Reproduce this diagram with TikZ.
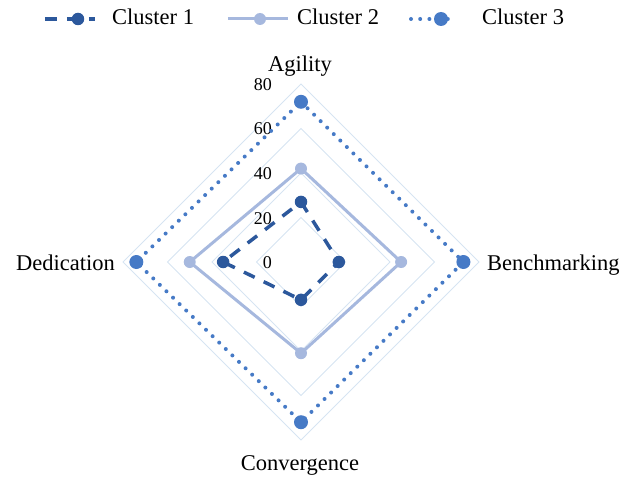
\documentclass[tikz,border=0pt]{standalone}
\usepackage{fontspec}
\setmainfont{Liberation Serif}
\usepackage{tikz}
\usetikzlibrary{calc}
\definecolor{clusterone}{RGB}{44,88,156}
\definecolor{clustertwo}{RGB}{166,184,222}
\definecolor{clusterthree}{RGB}{70,122,198}
\definecolor{gridblue}{RGB}{214,228,242}
\newcommand{\rs}{2.225}
\tikzset{
  gridline/.style={gridblue, line width=1pt},
  serie1/.style={clusterone, line width=3.5pt, dash pattern=on 12pt off 10pt},
  serie2/.style={clustertwo, line width=3pt},
  serie3/.style={clusterthree, line width=4pt, line cap=round, dash pattern=on 0pt off 9.2pt},
  dot1/.style={circle, fill=clusterone, inner sep=0pt, minimum size=12.5pt},
  dot2/.style={circle, fill=clustertwo, inner sep=0pt, minimum size=12pt},
  dot3/.style={circle, fill=clusterthree, inner sep=0pt, minimum size=14pt},
  axislabel/.style={font=\fontsize{22.5}{26}\selectfont, inner sep=0pt},
  ticklabel/.style={font=\fontsize{18}{21}\selectfont, inner sep=0pt, anchor=base east}
}

\begin{document}
\begin{tikzpicture}[x=1pt,y=1pt]
\useasboundingbox (-301,-215) rectangle (322,262);
\coordinate (o) at (0,0);

% grid
\foreach \r in {20,40,60,80} {
  \draw[gridline] (90:{\r*\rs}) -- (0:{\r*\rs}) -- (-90:{\r*\rs}) -- (180:{\r*\rs}) -- cycle;
}
\foreach \v in {0,20,...,80} {
  \node[ticklabel] (tick\v) at (-29,{\v*\rs-6.5}) {\v};
}

% axes
\node[axislabel, anchor=base] (agility) at (-1,190) {Agility};
\node[axislabel, anchor=base west] (bench) at (186,-8) {Benchmarking};
\node[axislabel, anchor=base] (conv) at (-1,-208) {Convergence};
\node[axislabel, anchor=base east] (dedic) at (-186,-8) {Dedication};

% series
\foreach \k/\va/\vb/\vc/\vd in {1/27/17/17/35, 2/42/45/41/50, 3/72/73/72/74} {
  \coordinate (c\k-a) at (90:{\va*\rs});
  \coordinate (c\k-b) at (0:{\vb*\rs});
  \coordinate (c\k-c) at (-90:{\vc*\rs});
  \coordinate (c\k-d) at (180:{\vd*\rs});
  \draw[serie\k] (c\k-a) -- (c\k-b) -- (c\k-c) -- (c\k-d) -- cycle;
  \foreach \p in {a,b,c,d}
    \node[dot\k] (m\k-\p) at (c\k-\p) {};
}

% legend
\foreach \k/\xs/\xe/\xm/\xt in {1/-256/-206/-223/-189, 2/-73/-13/-41/-4, 3/110/154/140/181} {
  \coordinate (leg\k-s) at (\xs,243);
  \coordinate (leg\k-e) at (\xe,243);
  \draw[serie\k] (leg\k-s) -- (leg\k-e);
  \node[dot\k] (legdot\k) at (\xm,243) {};
  \node[axislabel, anchor=base west] (legtext\k) at (\xt,237) {Cluster \k};
}
\end{tikzpicture}
\end{document}
